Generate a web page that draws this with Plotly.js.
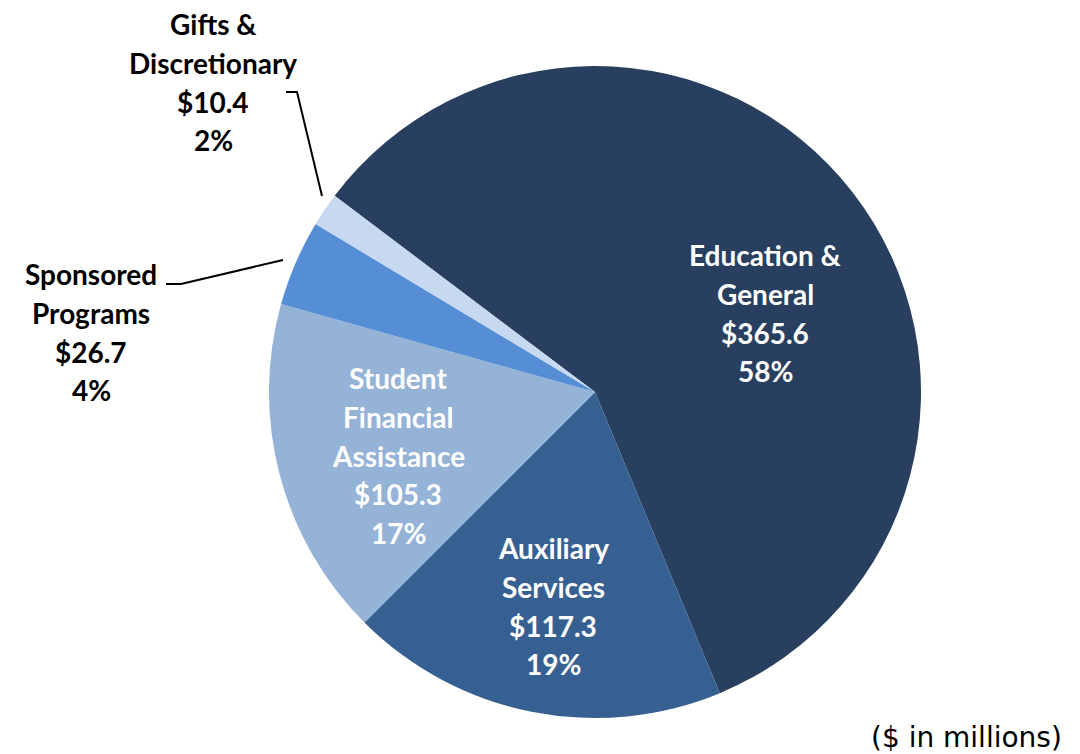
<!DOCTYPE html>
<html>
<head>
<meta charset="utf-8">
<script src="https://cdn.plot.ly/plotly-3.0.1.min.js"></script>
<style>html,body{margin:0;padding:0;background:#fff;}#chart{width:1080px;height:754px;}</style>
</head>
<body>
<div id="chart"></div>
<script>
const categories = ["Education & General", "Auxiliary Services", "Student Financial Assistance", "Sponsored Programs", "Gifts & Discretionary"];
const labelLines = [["Education &", "General"], ["Auxiliary", "Services"], ["Student", "Financial", "Assistance"], ["Sponsored", "Programs"], ["Gifts &", "Discretionary"]];
const values = [365.6, 117.3, 105.3, 26.7, 10.4];
const colors = ["#283F60", "#376092", "#95B3D7", "#558ED5", "#C6D9F1"];
const unitNote = "($ in millions)";

const W = 1080, H = 754;
const total = values.reduce((a, b) => a + b, 0);
const px = x => x / W, py = y => 1 - y / H;

// label block anchors (pixel centre of first line), text colour
const labelPos = [
  {x: 765, y: 255, c: "#FFFFFF"},
  {x: 553, y: 548, c: "#FFFFFF"},
  {x: 398, y: 378, c: "#FFFFFF"},
  {x: 91,  y: 274, c: "#000000"},
  {x: 213, y: 24,  c: "#000000"}
];
const pitch = 38.8;

const annotations = [];
categories.forEach((cat, i) => {
  const lines = labelLines[i].concat(["$" + values[i].toFixed(1), Math.round(values[i] / total * 100) + "%"]);
  lines.forEach((t, j) => {
    annotations.push({
      xref: "paper", yref: "paper",
      x: px(labelPos[i].x), y: py(labelPos[i].y + j * pitch),
      xanchor: "center", yanchor: "middle",
      text: "<b>" + t.replace("&", "&amp;") + "</b>", showarrow: false,
      font: {family: "Lato, 'Open Sans', sans-serif", size: 28, color: labelPos[i].c}
    });
  });
});
annotations.push({
  xref: "paper", yref: "paper", x: px(1064), y: py(737),
  xanchor: "right", yanchor: "middle", text: unitNote, showarrow: false,
  font: {family: "'DejaVu Sans', sans-serif", size: 28, color: "#000000"}
});

const cx = 595, cy = 392, r = 326;
const data = [{
  type: "pie",
  labels: categories,
  values: values,
  sort: false,
  direction: "clockwise",
  rotation: -53,
  textinfo: "none",
  hoverinfo: "label+value+percent",
  marker: {colors: colors, line: {width: 0}},
  domain: {x: [px(cx - r), px(cx + r)], y: [py(cy + r), py(cy - r)]},
  showlegend: false
}];

const shapes = [
  {type: "path", xref: "paper", yref: "paper",
   path: `M ${px(286)} ${py(92)} L ${px(297)} ${py(92)} L ${px(322)} ${py(196)}`,
   line: {color: "#000", width: 2}},
  {type: "path", xref: "paper", yref: "paper",
   path: `M ${px(166)} ${py(284)} L ${px(181)} ${py(284)} L ${px(283)} ${py(260)}`,
   line: {color: "#000", width: 2}}
];

const layout = {
  width: W, height: H,
  margin: {l: 0, r: 0, t: 0, b: 0},
  paper_bgcolor: "#FFFFFF",
  annotations: annotations,
  shapes: shapes
};
Plotly.newPlot("chart", data, layout, {displayModeBar: false, staticPlot: true});
</script>
</body>
</html>
